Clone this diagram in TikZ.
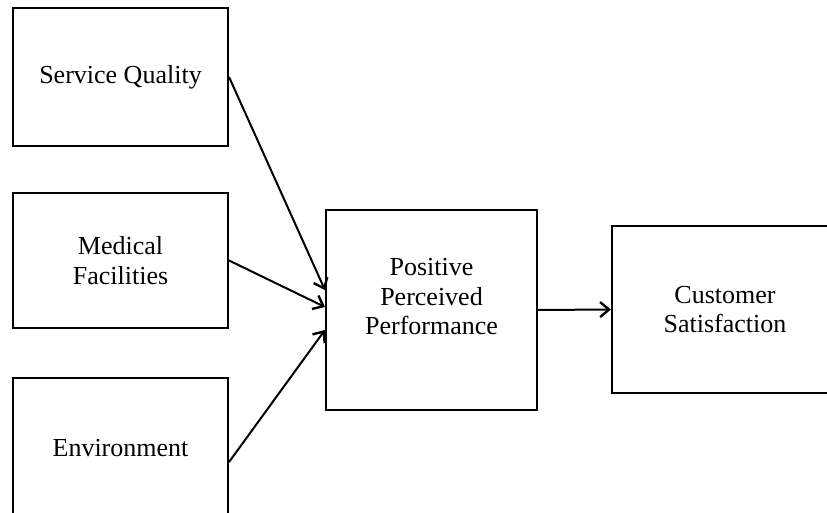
\documentclass[tikz,border=0pt]{standalone}
\usepackage{fontspec}
\setmainfont{Liberation Serif}
\usetikzlibrary{arrows.meta,calc}
\begin{document}
\begin{tikzpicture}[x=1pt,y=-1pt,
  box/.style={draw=black, line width=2.1pt, inner sep=0pt, align=center,
    font=\fontsize{26pt}{29.5pt}\selectfont},
  link/.style={line width=2pt, -{Straight Barb[length=9pt,width=15pt,line width=2.4pt]}}]
  \useasboundingbox (0,0) rectangle (827,513);
  \clip (0,0) rectangle (827,513);
  \fill[white] (0,0) rectangle (827,513);

  % input factors
  \node[box, minimum width=215pt, minimum height=138pt] (sq) at (120.5,77) {Service Quality};
  \node[box, minimum width=215pt, minimum height=135pt] (mf) at (120.5,260.5) {Medical\\Facilities};
  \node[box, minimum width=215pt, minimum height=140pt] (env) at (120.5,448) {Environment};

  % mediator and outcome
  \node[box, minimum width=211pt, minimum height=200pt,
    label={[box, draw=none, yshift=13pt]center:{Positive\\Perceived\\Performance}}] (ppp) at (431.5,310) {};
  \node[box, minimum width=226pt, minimum height=167pt] (cs) at (725,309.5) {Customer\\Satisfaction};

  % connectors
  \draw[link] (sq.east) -- ($(ppp.west)+(0,-20)$);
  \draw[link] (mf.east) -- ($(ppp.west)+(0,-3)$);
  \draw[link] ($(env.east)+(0,14)$) -- ($(ppp.west)+(0,20)$);
  \draw[link] (ppp.east) -- (cs.west);
\end{tikzpicture}
\end{document}
